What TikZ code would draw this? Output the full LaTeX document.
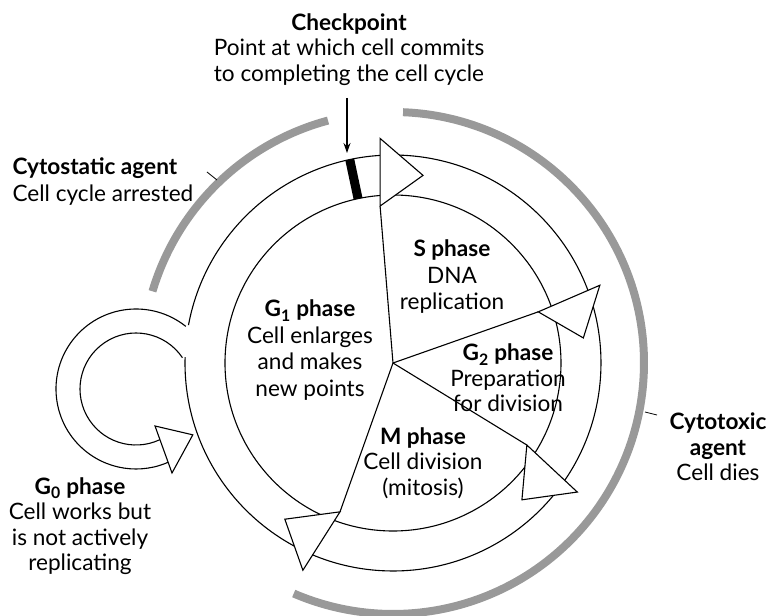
\documentclass[tikz,border=0pt]{standalone}
\usepackage{fontspec}
\setmainfont{Lato}
\usetikzlibrary{arrows.meta}

\begin{document}
\begin{tikzpicture}[x=1pt,y=1pt,line width=1.1pt,
  note/.style={font=\fontsize{22.6}{25.5}\selectfont,align=center,inner sep=0pt},
  wide/.style={font=\fontsize{22.6}{26.5}\selectfont},
  head/.style={draw,fill=white,line join=miter},
  agent/.style={draw=black!40,line width=8pt},
  tick/.style={line width=0.8pt}]
\useasboundingbox (-393,-253) rectangle (384,363);

% grey bands for the two agents
\draw[agent] (105:251) arc[start angle=105,end angle=163.4,radius=251];
\draw[agent] (87.7:251) arc[start angle=87.7,end angle=-113.3,radius=251];

% G0 loop
\begin{scope}[shift={(-257,-26)}]
\draw (51.5:80) arc[start angle=51.5,end angle=300,radius=80];
\draw (34:56) arc[start angle=34,end angle=300,radius=56];
\draw[head] (-62.8:41.6) -- (-38.9:73) -- (-66.8:91.4) -- cycle;
\end{scope}

% the cycle
\coordinate (hub) at (0,0);
\coordinate (sbarb) at (94.7:157.5);
\coordinate (gbarb) at (19.4:154);
\coordinate (mbarb) at (-31.5:157);
\coordinate (ibarb) at (-109.6:158);
\draw (hub) circle[radius=168];
\draw (178.4:208) arc[start angle=178.4,end angle=529.5,radius=208];
\draw (hub) -- (sbarb);
\draw (hub) -- (gbarb);
\draw (hub) -- (mbarb);
\draw (hub) -- (ibarb);
\draw[line width=9pt] (102:168) -- (102:208);
\draw[head] (sbarb) -- (80.9:190) -- (93.3:225) -- cycle;
\draw[head] (gbarb) -- (7.5:192) -- (20.6:221) -- cycle;
\draw[head] (mbarb) -- (-46.7:188) -- (-35:225) -- cycle;
\draw[head] (ibarb) -- (-124.7:190) -- (-113.5:226) -- cycle;

% texts
\node[note] (chk) at (-44,313.5) {\textbf{Checkpoint}\\Point at which cell commits\\to completing the cell cycle};
\coordinate (chkfoot) at (-46,265);
\coordinate (chktip) at (-46,210);
\draw[-{Stealth[length=10pt,width=7pt]}] (chkfoot) -- (chktip);

\node[note,wide,align=left,anchor=west] (stat) at (-381,181.5) {\textbf{Cytostatic agent}\\Cell cycle arrested};
\coordinate (statfrom) at (-186,191);
\coordinate (statto) at (-176,183);
\draw[tick] (statfrom) -- (statto);

\node[note] (tox) at (325,-84) {\textbf{Cytotoxic}\\\textbf{agent}\\Cell dies};
\coordinate (toxfrom) at (264,-52);
\coordinate (toxto) at (252,-49);
\draw[tick] (toxfrom) -- (toxto);

\node[note,wide] (g1) at (-83,13) {\textbf{G\textsubscript{1} phase}\\Cell enlarges\\and makes\\new points};
\node[note,wide] (s) at (59,86) {\textbf{S phase}\\DNA\\replication};
\node[note] (g2) at (115,-15) {\textbf{G\textsubscript{2} phase}\\Preparation\\for division};
\node[note] (m) at (30,-100) {\textbf{M phase}\\Cell division\\(mitosis)};
\node[note] (g0) at (-313,-163) {\textbf{G\textsubscript{0} phase}\\Cell works but\\is not actively\\replicating};
\end{tikzpicture}
\end{document}
